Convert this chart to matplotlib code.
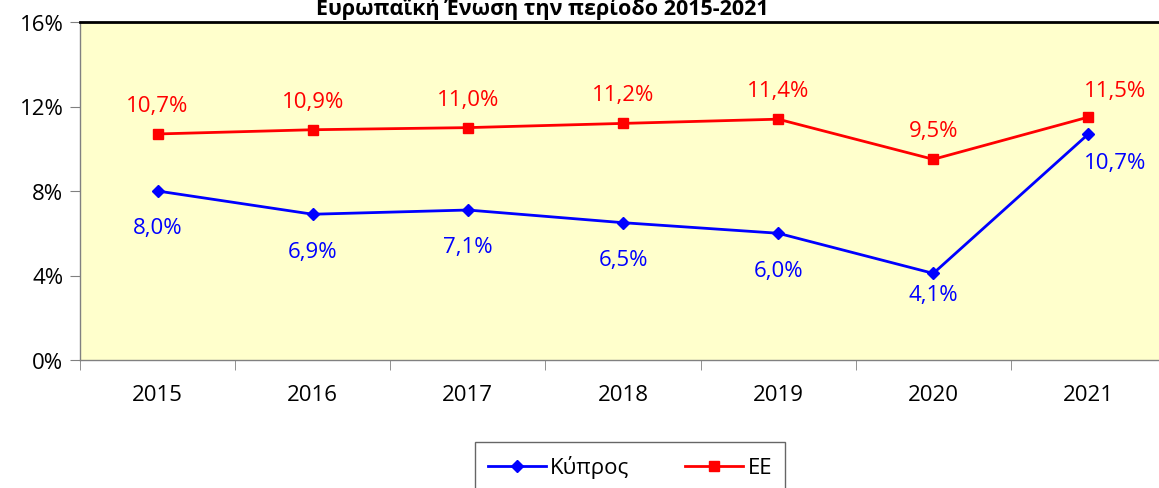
import matplotlib
matplotlib.use('Agg')
import matplotlib.pyplot as plt
from matplotlib.ticker import FuncFormatter

plt.rcParams['font.family'] = ['Open Sans', 'DejaVu Sans']

# data
years = ['2015', '2016', '2017', '2018', '2019', '2020', '2021']
cyprus = [8.0, 6.9, 7.1, 6.5, 6.0, 4.1, 10.7]
eu = [10.7, 10.9, 11.0, 11.2, 11.4, 9.5, 11.5]
title = 'Ευρωπαϊκή Ένωση την περίοδο 2015-2021'

W, H = 1159, 489
fig = plt.figure(figsize=(W / 100, H / 100), dpi=100)
ax = fig.add_axes([80 / W, 1 - 361 / H, (1166 - 80) / W, (361 - 23) / H])
ax.set_facecolor('#FFFFCC')

x = list(range(len(years)))
ax.plot(x, cyprus, color='#0000FF', lw=2, marker='D', ms=6, label='Κύπρος', zorder=3)
ax.plot(x, eu, color='#FF0000', lw=2, marker='s', ms=7, label='ΕΕ', zorder=3)

def pct(v):
    return f'{v:.1f}%'.replace('.', ',')

# label offsets in points (Excel nudges a few of them)
blue_off = {5: (0, -8), 6: (19, -13)}
red_off = {6: (19, 11.5)}

fs = 16
for i, v in enumerate(cyprus):
    ax.annotate(pct(v), (i, v), xytext=blue_off.get(i, (0, -19)), textcoords='offset points',
                ha='center', va='top', color='#0000FF', fontsize=fs)
for i, v in enumerate(eu):
    ax.annotate(pct(v), (i, v), xytext=red_off.get(i, (0, 13)), textcoords='offset points',
                ha='center', va='bottom', color='#FF0000', fontsize=fs)

ax.set_xlim(-0.5, 6.5)
ax.set_ylim(0, 16)
ax.set_yticks([0, 4, 8, 12, 16])
ax.yaxis.set_major_formatter(FuncFormatter(lambda v, p: f'{v:.0f}%'))
ax.set_xticks(x)
ax.set_xticklabels(years)
ax.set_xticks([i - 0.5 for i in range(len(years) + 1)], minor=True)
ax.tick_params(axis='x', which='major', length=0, labelsize=fs, pad=17)
ax.tick_params(axis='x', which='minor', length=7, color='#808080')
ax.tick_params(axis='y', length=7, color='#808080', labelsize=fs, pad=5)

for s in ['left', 'bottom']:
    ax.spines[s].set_color('#808080')
    ax.spines[s].set_linewidth(1)
ax.spines['top'].set_color('black')
ax.spines['top'].set_linewidth(2)
ax.spines['right'].set_visible(False)

fig.text(542 / W, 1 - 15 / H, title, ha='center', va='baseline',
         fontsize=15.5, fontweight='bold')

leg = fig.legend(loc='upper center', bbox_to_anchor=(630 / W, 1 - 443 / H),
                 ncol=2, fontsize=fs, frameon=True, fancybox=False,
                 edgecolor='#404040', borderpad=0.6, borderaxespad=0,
                 columnspacing=2.5, handlelength=2.6, handletextpad=0.2)
leg.get_frame().set_linewidth(1)

fig.savefig('out.png', dpi=100)
